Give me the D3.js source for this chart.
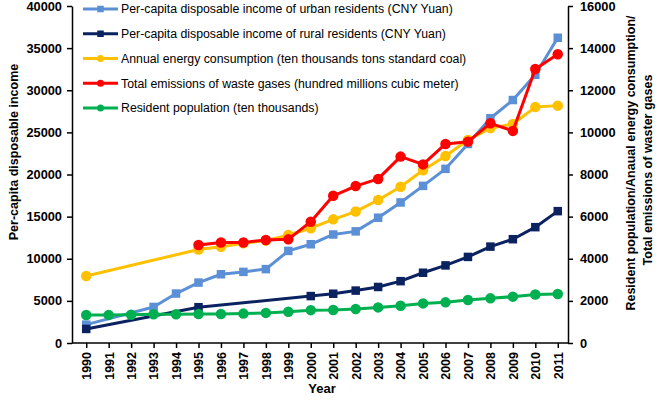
<!DOCTYPE html>
<html><head><meta charset="utf-8">
<script src="https://cdn.jsdelivr.net/npm/d3@7"></script>
<style>body{margin:0;background:#fff}svg{display:block}text{font-family:"Liberation Sans",Arial,sans-serif}</style>
</head><body><svg id="c" width="660" height="400"></svg>
<script>
const years = [1990,1991,1992,1993,1994,1995,1996,1997,1998,1999,2000,2001,2002,2003,2004,2005,2006,2007,2008,2009,2010,2011];
const urbanIncome = [2180,null,null,4280,5870,7170,8160,8440,8770,10930,11720,12880,13250,14870,16680,18650,20670,23620,26680,28840,31840,36230];
const ruralIncome = [1670,null,null,null,null,4250,null,null,null,null,5570,5850,6220,6650,7340,8340,9210,10220,11440,12320,13750,15650];
const energy = [3180,null,null,null,null,4440,4570,4730,4860,5130,5450,5870,6240,6790,7420,8200,8880,9640,10200,10400,11200,11270];
const wasteGases = [null,null,null,null,null,4650,4770,4770,4890,4920,5760,6990,7450,7790,8850,8480,9450,9560,10430,10070,13010,13710];
const population = [1330,1335,1340,1362,1368,1372,1378,1395,1430,1480,1560,1570,1615,1690,1770,1880,1930,2040,2120,2200,2305,2330];
const leftTicks = [0,5000,10000,15000,20000,25000,30000,35000,40000];
const rightTicks = [0,2000,4000,6000,8000,10000,12000,14000,16000];

const series = [
  {name:"Per-capita disposable income of urban residents (CNY Yuan)", values:urbanIncome, color:"#5B8FD6", shape:"square", axis:"left"},
  {name:"Per-capita disposable income of rural residents (CNY Yuan)", values:ruralIncome, color:"#0B2260", shape:"square", axis:"left"},
  {name:"Annual energy consumption (ten thousands tons standard coal)", values:energy, color:"#FFC000", shape:"circle", axis:"right"},
  {name:"Total emissions of waste gases (hundred millions cubic meter)", values:wasteGases, color:"#FF0000", shape:"circle", axis:"right"},
  {name:"Resident population (ten thousands)", values:population, color:"#00B050", shape:"circle", axis:"right"}
];

const svg = d3.select("#c");
const L=72, R=568, T=6, B=343;
const x = d3.scalePoint().domain(years).range([75,569]).padding(0.5);
const yL = d3.scaleLinear().domain([0,40000]).range([B,T]);
const yR = d3.scaleLinear().domain([0,16000]).range([B,T]);

const fontTick = "bold 12.8px 'Liberation Sans', Arial, sans-serif";

const gL = svg.append("g").attr("transform",`translate(${L},0)`)
  .call(d3.axisLeft(yL).tickValues(leftTicks).tickFormat(d3.format("d")).tickSize(5).tickPadding(5).tickSizeOuter(0));
const gR = svg.append("g").attr("transform",`translate(${R},0)`)
  .call(d3.axisRight(yR).tickValues(rightTicks).tickFormat(d3.format("d")).tickSize(5).tickPadding(7).tickSizeOuter(0));
const gX = svg.append("g").attr("transform",`translate(0,${B})`)
  .call(d3.axisBottom(x).tickSize(5).tickSizeOuter(0));
gX.select(".domain").attr("d",`M${L},0H${R}`);
gX.selectAll(".tick text").attr("transform","rotate(-90)").attr("text-anchor","end")
  .attr("x",-9).attr("y",0).attr("dy","0.35em");
[gL,gR,gX].forEach(g=>{
  g.selectAll(".domain").attr("stroke","#000").attr("stroke-width",1.5);
  g.selectAll(".tick line").attr("stroke","#000").attr("stroke-width",1.5);
  g.selectAll(".tick text").style("font",fontTick).attr("fill","#000");
});
gX.selectAll(".tick text").style("font","bold 12.5px 'Liberation Sans', Arial, sans-serif");

svg.append("text").attr("transform","translate(18,152) rotate(-90)").attr("text-anchor","middle")
  .style("font","bold 12.5px 'Liberation Sans', Arial, sans-serif").text("Per-capita disposable income");
svg.append("text").attr("transform","translate(635,163) rotate(-90)").attr("text-anchor","middle")
  .style("font","bold 12.5px 'Liberation Sans', Arial, sans-serif").text("Resident population/Anaual energy consumption/");
svg.append("text").attr("transform","translate(652,170) rotate(-90)").attr("text-anchor","middle")
  .style("font","bold 12.5px 'Liberation Sans', Arial, sans-serif").text("Total emissions of waster gases");
svg.append("text").attr("x",322).attr("y",393).attr("text-anchor","middle")
  .style("font","bold 13px 'Liberation Sans', Arial, sans-serif").text("Year");

function marker(g, shape, cx, cy, size, color){
  if(shape==="square"){
    g.append("rect").attr("x",cx-size/2).attr("y",cy-size/2).attr("width",size).attr("height",size).attr("fill",color);
  } else {
    g.append("circle").attr("cx",cx).attr("cy",cy).attr("r",size/2).attr("fill",color);
  }
}

series.forEach(s=>{
  const y = s.axis==="left"?yL:yR;
  const pts = years.map((yr,i)=>({yr,v:s.values[i]})).filter(d=>d.v!=null);
  const g = svg.append("g");
  g.append("path").datum(pts).attr("fill","none").attr("stroke",s.color).attr("stroke-width",3)
    .attr("stroke-linejoin","round")
    .attr("d",d3.line().x(d=>x(d.yr)).y(d=>y(d.v)));
  pts.forEach(d=>marker(g,s.shape,x(d.yr),y(d.v),s.shape==="square"?8.5:10.5,s.color));
});

const lg = svg.append("g");
series.forEach((s,i)=>{
  const cy = 9 + i*24.75;
  lg.append("line").attr("x1",83).attr("x2",118).attr("y1",cy).attr("y2",cy).attr("stroke",s.color).attr("stroke-width",3);
  marker(lg,s.shape,100.5,cy,s.shape==="square"?6.5:7,s.color);
  lg.append("text").attr("x",121).attr("y",cy).attr("dy","0.36em")
    .style("font","12.3px 'Liberation Sans', Arial, sans-serif").attr("fill","#000").text(s.name);
});
</script></body></html>
